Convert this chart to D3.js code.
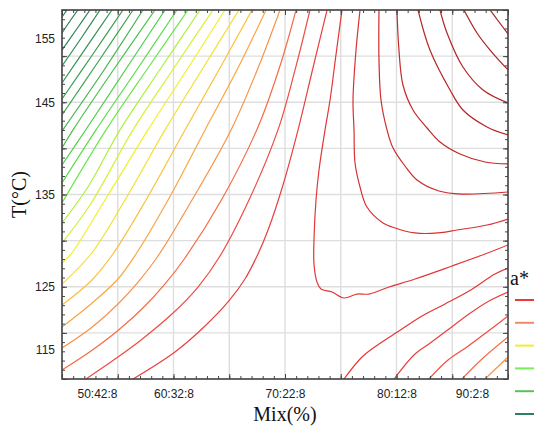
<!DOCTYPE html>
<html>
<head>
<meta charset="utf-8">
<script src="https://cdn.jsdelivr.net/npm/d3@7"></script>
<style>
  html, body { margin: 0; padding: 0; background: #fff; }
  svg { display: block; }
</style>
</head>
<body>
<svg id="chart" width="534" height="429"></svg>
<script>
// ---- data -------------------------------------------------------------
// Axis labels: blend ratio on x, temperature (°C) on y
const mixTicks  = [50, 60, 70, 80, 90];
const mixLabels = ["50:42:8", "60:32:8", "70:22:8", "80:12:8", "90:2:8"];
const tempTicks = [115, 125, 135, 145, 155];

// Iso-a* lines: level index (low → high) and the [mix %, T °C] points of each line
const contourLevels = [
  1, 2, 3, 4, 5, 6, 7, 8, 9, 10, 11, 12, 13, 14, 15, 16, 17, 18, 19, 20, 21, 22,
  23, 24, 25, 26, 27, 28, 29, 30,
  23, 22, 21, 20, 19
];
const contourLines = [
  [[50,154.24],[50.45,155]],
  [[50,152.51],[50.72,153.81],[51.43,155]],
  [[50,150.66],[51.26,152.83],[52.51,155]],
  [[50,148.93],[51.79,152.07],[53.41,155]],
  [[50,147.09],[52.33,151.21],[54.48,155]],
  [[50,145.35],[52.78,150.23],[55.47,155]],
  [[50,143.62],[53.23,149.36],[56.37,155]],
  [[50,141.88],[53.77,148.5],[57.26,155]],
  [[50,140.04],[50.99,142],[54.48,148.28],[58.34,155]],
  [[50,138.2],[52.06,141.88],[55.56,148.28],[59.24,155]],
  [[50,136.25],[53.05,142],[56.82,148.71],[60.31,155]],
  [[50,134.08],[53.95,142],[57.71,148.71],[61.3,155]],
  [[50,131.91],[52.33,135.81],[55.2,142],[58.88,148.71],[62.38,155]],
  [[50,129.74],[52.51,133.86],[56.37,142],[60.04,148.71],[63.54,155]],
  [[50,127.57],[50.81,128.55],[53.86,134.4],[57.71,142],[61.3,148.71],[64.62,155]],
  [[50,125.3],[52.6,128.55],[55.65,134.4],[59.24,142],[62.65,148.71],[65.87,155]],
  [[50,123.02],[52.6,125.62],[54.57,128.55],[57.53,134.4],[61.03,142],[64.17,148.71],[67.04,155]],
  [[50,120.64],[52.6,123.13],[55.02,125.84],[56.64,128.55],[59.51,134.4],[62.83,142],[65.78,148.71],[68.3,155]],
  [[50,118.36],[52.6,120.53],[55.02,123.13],[56.82,125.51],[58.61,128.33],[61.66,134.4],[65.16,142],[67.58,148.71],[69.55,155]],
  [[50,115.98],[52.6,118.04],[55.02,120.26],[57.44,122.91],[59.24,125.3],[61.03,128.12],[64.35,134.51],[67.58,142.32],[69.55,148.93],[70.99,155]],
  [[52.15,115],[55.02,117.38],[57.09,119.23],[59.96,122.15],[62.2,124.97],[64.17,128.33],[66.77,134.4],[69.37,142],[70.9,148.5],[72.24,155]],
  [[56.37,115],[60.13,117.93],[62.83,120.75],[64.89,123.35],[66.41,125.84],[67.58,128.55],[68.48,131.15],[69.82,136.03],[71.17,142],[72.42,148.28],[73.77,155]],
  [[75.11,155],[74.57,150.12],[74.04,145.24],[73.59,142],[73.05,137.66],[72.78,134.4],[72.6,130.07],[72.6,127.47],[72.87,125.51],[73.23,124.76],[74.22,124.43],[75.29,123.78],[76.46,124.21],[77.53,124.21],[79.33,124.97],[81.66,125.84],[84.98,127.25],[87.94,128.55],[90,129.53]],
  [[76.73,155],[76.37,150.66],[76.1,145.24],[76.19,142],[76.28,138.41],[76.73,135.81],[77.35,133.64],[78.79,131.91],[79.6,131.48],[81.66,130.83],[83.72,130.83],[85.43,131.15],[88.12,131.69],[90,132.34]],
  [[78.43,155],[78.43,149.58],[78.61,145.24],[79.15,142],[79.69,140.04],[80.76,138.09],[81.84,136.57],[83.81,135.38],[85.87,135.05],[90,135.27]],
  [[80.04,155],[80.22,150.66],[80.58,146.87],[81.48,144.16],[82.74,142.21],[83.9,140.69],[85.7,139.39],[87.94,138.52],[90,138.31]],
  [[81.93,155],[83,150.66],[84.8,146.33],[85.96,144.16],[88.12,142.32],[90,141.45]],
  [[83.9,155],[84.53,152.51],[85.96,148.82],[87.76,146.33],[90,144.92]],
  [[86.05,155],[87.22,152.51],[88.39,150.66],[90,148.5]],
  [[88.39,155],[90,152.4]],
  [[75.29,115],[76.91,117.38],[78.43,118.79],[80.22,120.2],[82.29,121.83],[84.35,123.13],[86.5,124.54],[88.83,126.38],[90,127.03]],
  [[79.78,115],[81.66,117.71],[82.91,118.79],[84.71,120.42],[86.5,122.05],[88.3,123.46],[90,124.43]],
  [[82.91,115],[84.62,117.06],[86.32,118.47],[88.12,120.09],[90,121.83]],
  [[85.87,115],[87.67,117.17],[90,119.55]],
  [[87.94,115],[90,117.38]]
];

// Legend rows (top to bottom)
const legendLevels = ["l1", "l2", "l3", "l4", "l5", "l6"];

// ---- styles -----------------------------------------------------------
const levelColor = d3.scaleLinear()
  .domain([1, 4, 7, 10, 12, 13, 14, 15, 16, 17, 18, 19, 20, 21, 22, 23, 25, 27, 30])
  .range(["#2f7a5c", "#338a58", "#3ea84c", "#4cd046", "#68e84a", "#b0f03c",
           "#d8f034", "#f0f02c", "#f4e02e", "#f8c23c", "#f8a642", "#f8924a",
           "#f46c44", "#ee4c42", "#e84040", "#e23636", "#d02c2c", "#b82626", "#a61e20"])
  .interpolate(d3.interpolateRgb);
const legendColors = ["#e83a3a", "#f5876a", "#f0ee30", "#78ee58", "#5cc05a", "#2e7e62"];

const tickFont  = '"Liberation Sans", Arial, sans-serif';
const titleFont = '"Liberation Serif", "Times New Roman", serif';

// ---- layout -----------------------------------------------------------
const plot = { left: 62, right: 508, top: 10, bottom: 379 };
const svg = d3.select("#chart");

const x = d3.scaleLinear().domain([50, 90]).range([plot.left, plot.right]);
const y = d3.scaleLinear().domain([115, 155]).range([plot.bottom, plot.top]);

// Grid every 5 units
const grid = svg.append("g").attr("stroke", "#dedede").attr("stroke-width", 1.4);
grid.selectAll("line.gx").data(x.ticks(8)).join("line")
  .attr("x1", d => x(d)).attr("x2", d => x(d))
  .attr("y1", plot.top).attr("y2", plot.bottom);
grid.selectAll("line.gy").data(y.ticks(8)).join("line")
  .attr("y1", d => y(d)).attr("y2", d => y(d))
  .attr("x1", plot.left).attr("x2", plot.right);

// Contour lines
svg.append("clipPath").attr("id", "plotClip").append("rect")
  .attr("x", plot.left).attr("y", plot.top)
  .attr("width", plot.right - plot.left).attr("height", plot.bottom - plot.top);

const line = d3.line()
  .x(d => x(d[0])).y(d => y(d[1]))
  .curve(d3.curveCatmullRom.alpha(0.5));

svg.append("g").attr("clip-path", "url(#plotClip)")
  .selectAll("path").data(contourLines).join("path")
  .attr("d", line)
  .attr("fill", "none")
  .attr("stroke", (d, i) => levelColor(contourLevels[i]))
  .attr("stroke-width", 1.2)
  .attr("stroke-linejoin", "round");

// Inward ticks on all four sides: minor every unit, major every 5
function tickAxis(axisFn, scale, count, size, tx, ty) {
  const g = svg.append("g").attr("transform", `translate(${tx},${ty})`)
    .call(axisFn(scale).ticks(count).tickSize(-size).tickFormat(""));
  g.select(".domain").remove();
  g.selectAll(".tick line").attr("stroke", "#444").attr("stroke-width", 1);
}
[[40, 3], [8, 5]].forEach(([n, s]) => {
  tickAxis(d3.axisBottom, x, n, s, 0, plot.bottom);
  tickAxis(d3.axisTop, x, n, s, 0, plot.top);
  tickAxis(d3.axisLeft, y, n, s, plot.left, 0);
  tickAxis(d3.axisRight, y, n, s, plot.right, 0);
});

// Frame
svg.append("rect")
  .attr("x", plot.left).attr("y", plot.top)
  .attr("width", plot.right - plot.left).attr("height", plot.bottom - plot.top)
  .attr("fill", "none").attr("stroke", "#454545").attr("stroke-width", 1.6);

// Tick labels (the end labels sit inward from the corners)
const xLab = svg.append("g").attr("transform", `translate(0,${plot.bottom})`)
  .call(d3.axisBottom(x).tickValues(mixTicks)
    .tickFormat((d, i) => mixLabels[i]).tickSize(0).tickPadding(10));
xLab.select(".domain").remove();
xLab.selectAll("text")
  .attr("x", d => d === mixTicks[0] ? 35 : d === mixTicks[mixTicks.length - 1] ? -36 : 0)
  .attr("font-family", tickFont).attr("font-size", 12).attr("fill", "#222");

const yLab = svg.append("g").attr("transform", `translate(${plot.left},0)`)
  .call(d3.axisLeft(y).tickValues(tempTicks).tickSize(0).tickPadding(7));
yLab.select(".domain").remove();
yLab.selectAll("text")
  .attr("y", d => d === tempTicks[0] ? -29 : d === tempTicks[tempTicks.length - 1] ? 29 : 0)
  .attr("font-family", tickFont).attr("font-size", 12).attr("fill", "#222");

// Axis titles
svg.append("text")
  .attr("x", (plot.left + plot.right) / 2).attr("y", 421)
  .attr("text-anchor", "middle")
  .attr("font-family", titleFont).attr("font-size", 20).attr("fill", "#111")
  .text("Mix(%)");

svg.append("text")
  .attr("transform", `translate(26,${(plot.top + plot.bottom) / 2}) rotate(-90)`)
  .attr("text-anchor", "middle")
  .attr("font-family", titleFont).attr("font-size", 20).attr("fill", "#111")
  .text("T(°C)");

// Legend
svg.append("text")
  .attr("x", 510).attr("y", 285)
  .attr("font-family", titleFont).attr("font-size", 20).attr("fill", "#111")
  .text("a*");

const legendY = d3.scalePoint().domain(legendLevels).range([300, 414]);
svg.append("g").selectAll("line").data(legendLevels).join("line")
  .attr("x1", 515).attr("x2", 540)
  .attr("y1", d => legendY(d)).attr("y2", d => legendY(d))
  .attr("stroke", (d, i) => legendColors[i])
  .attr("stroke-width", 2);
</script>
</body>
</html>
